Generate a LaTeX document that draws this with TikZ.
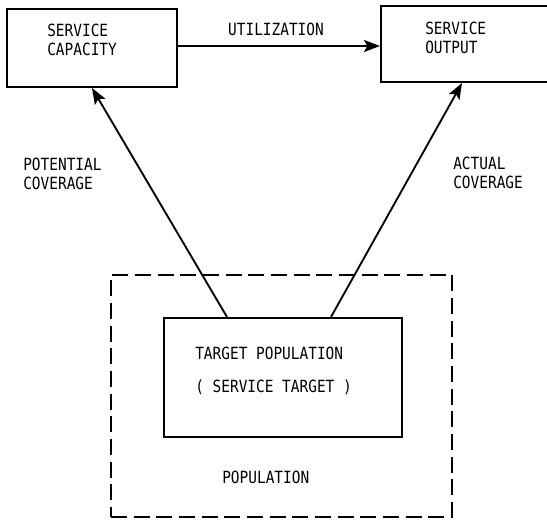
\documentclass[tikz,border=0pt]{standalone}
\usepackage{fontspec}
\setmonofont[FakeStretch=0.86]{DejaVu Sans Mono}
\usetikzlibrary{arrows.meta,calc}
\begin{document}
\begin{tikzpicture}[x=0.75pt,y=-0.75pt,
  box/.style={draw,line width=1.5pt,inner sep=0pt},
  dbox/.style={draw,line width=1.4pt,dash pattern=on 12pt off 5pt,inner sep=0pt},
  lbl/.style={font=\ttfamily\fontsize{12.6}{14.2}\selectfont,inner sep=0pt,align=left,anchor=west},
  arr/.style={line width=1.4pt,-{Stealth[length=12pt,width=9pt,inset=2.5pt]}}]
\useasboundingbox (0,0) rectangle (547,524);
% boxes
\node[box,minimum width=127.5pt,minimum height=58.5pt] (SC) at (92,48) {};
\node[box,minimum width=127.5pt,minimum height=57pt] (SO) at (466,44) {};
\node[dbox,minimum width=255.75pt,minimum height=181.5pt] (POP) at (281.5,396) {};
\node[box,minimum width=178.5pt,minimum height=89.25pt] (TP) at (283,377.5) {};
% texts
\node[lbl] (SCt) at (47,40) {SERVICE\\CAPACITY};
\node[lbl] (SOt) at (425,37.5) {SERVICE\\OUTPUT};
\node[lbl,anchor=center] (UT) at (276,29) {UTILIZATION};
\node[lbl] (PC) at (23,174) {POTENTIAL\\COVERAGE};
\node[lbl] (AC) at (453,172.5) {ACTUAL\\COVERAGE};
\node[lbl] (TPt) at (195,353) {TARGET POPULATION};
\node[lbl] (STt) at (195,387) {( SERVICE TARGET )};
\node[lbl] (POPt) at (222,477) {POPULATION};
% connectors
\draw[arr] (SC.east |- 0,46) -- (SO.west |- 0,46);
\draw[arr] ($(TP.north west)+(64,0)$) -- ($(SC.south west)+(86,0)$);
\draw[arr] ($(TP.north west)+(168,0)$) -- ($(SO.south west)+(82,0)$);
\end{tikzpicture}
\end{document}
